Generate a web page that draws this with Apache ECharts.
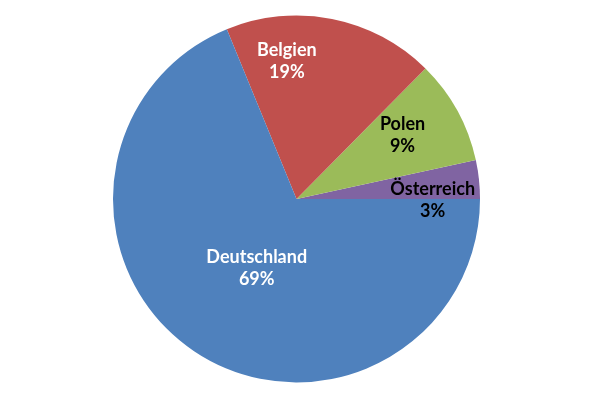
<!DOCTYPE html>
<html><head><meta charset="utf-8">
<script src="https://cdn.jsdelivr.net/npm/echarts@6/dist/echarts.min.js"></script>
<style>html,body{margin:0;padding:0;background:#fff}#c{width:600px;height:400px}</style>
</head><body><div id="c"></div>
<script>
const categories = ['Österreich', 'Polen', 'Belgien', 'Deutschland'];
const values = [3.4, 9.2, 18.6, 68.8];
const colors = ['#8064A2', '#9BBB59', '#C0504D', '#4F81BD'];
const labelColors = ['#000', '#000', '#fff', '#fff'];
const labelOffsets = [[42, 11], [23, -18], [-28, -45], [13, -10]];

const chart = echarts.init(document.getElementById('c'), null, {renderer: 'canvas'});
chart.setOption({
  animation: false,
  series: [{
    type: 'pie',
    center: [296.5, 199],
    radius: [0, 183.5],
    startAngle: 0,
    clockwise: false,
    avoidLabelOverlap: false,
    data: categories.map((n, i) => ({
      name: n, value: values[i],
      itemStyle: {color: colors[i]},
      label: {color: labelColors[i], offset: labelOffsets[i]}
    })),
    itemStyle: {borderWidth: 0},
    label: {
      show: true, position: 'inside',
      formatter: p => p.name + '\n' + Math.round(p.percent) + '%',
      fontFamily: 'Lato', fontWeight: 'bold', fontSize: 18, lineHeight: 22
    },
    labelLine: {show: false}
  }]
});
</script></body></html>
